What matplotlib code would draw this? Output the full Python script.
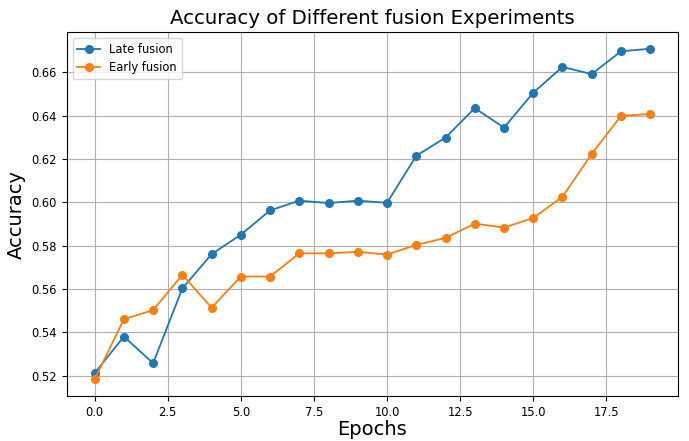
import matplotlib
matplotlib.use("Agg")
import matplotlib.pyplot as plt

# accuracy per epoch for the two fusion strategies
epochs = list(range(20))
late_fusion = [0.5212, 0.5381, 0.5258, 0.5603, 0.5761, 0.5851, 0.5963, 0.6008, 0.5997, 0.6008,
               0.5998, 0.6215, 0.6299, 0.6435, 0.6345, 0.6506, 0.6625, 0.6592, 0.6697, 0.6709]
early_fusion = [0.5183, 0.5461, 0.5503, 0.5666, 0.5514, 0.5658, 0.5658, 0.5765, 0.5765, 0.5772,
                0.5759, 0.5804, 0.5836, 0.5902, 0.5884, 0.5928, 0.6026, 0.6224, 0.6399, 0.6408]

fig = plt.figure(figsize=(6.89, 4.41), dpi=100)
ax = fig.add_axes([0.097, 0.102, 0.887, 0.825])

ax.plot(epochs, late_fusion, marker='o', markersize=5.5, linewidth=1.3, label='Late fusion')
ax.plot(epochs, early_fusion, marker='o', markersize=5.5, linewidth=1.3, label='Early fusion')

ax.set_title('Accuracy of Different fusion Experiments', fontsize=14.2)
ax.set_xlabel('Epochs', fontsize=14, labelpad=1)
ax.set_ylabel('Accuracy', fontsize=14)
ax.tick_params(labelsize=8.3)
ax.legend(loc='upper left', fontsize=8.3)
ax.grid(True)

fig.savefig('out.png', dpi=100)
